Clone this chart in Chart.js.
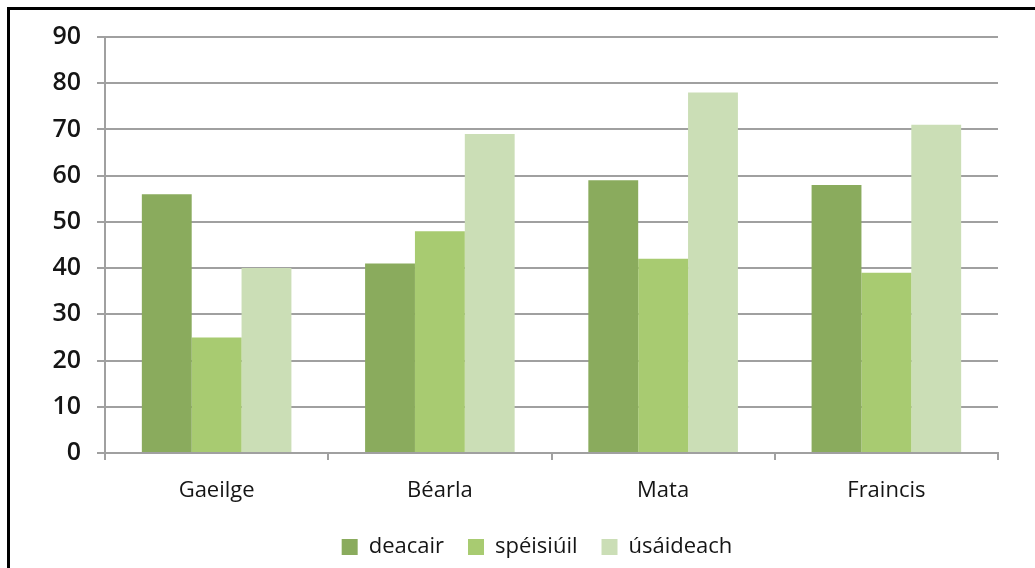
<!DOCTYPE html>
<html>
<head>
<meta charset="utf-8">
<script src="https://cdn.jsdelivr.net/npm/chart.js@4/dist/chart.umd.min.js"></script>
<style>
  html, body { margin: 0; padding: 0; background: #fff; overflow: hidden; }
  #wrap { position: relative; width: 1035px; height: 568px; }
  #frame { position: absolute; left: 7px; top: 7px; width: 1040px; height: 570px;
           border-left: 3px solid #000; border-top: 3px solid #000; box-sizing: border-box; }
  canvas { position: absolute; left: 0; top: 0; }
</style>
</head>
<body>
<div id="wrap">
  <div id="frame"></div>
  <canvas id="myChart" width="1035" height="568"></canvas>
</div>
<script>
// data
const subjects = ['Gaeilge', 'Béarla', 'Mata', 'Fraincis'];
const seriesNames = ['deacair', 'spéisiúil', 'úsáideach'];
const deacair = [56, 41, 59, 58];
const speisiuil = [25, 48, 42, 39];
const usaideach = [40, 69, 78, 71];
const yTicks = [0, 10, 20, 30, 40, 50, 60, 70, 80, 90];

const colours = ['#8aab5d', '#a8cb71', '#cbdeb6'];
const fontFamily = '"Open Sans", "Noto Sans", sans-serif';

// legend sits a bit right of the canvas centre in the original
const legendShift = {
  id: 'legendShift',
  afterLayout(chart) {
    if (chart.legend) {
      chart.legend.left += 38;
      chart.legend.right += 38;
    }
  }
};

const ctx = document.getElementById('myChart');
const myChart = new Chart(ctx, {
  type: 'bar',
  data: {
    labels: subjects,
    datasets: [deacair, speisiuil, usaideach].map((vals, i) => ({
      label: seriesNames[i],
      data: vals,
      backgroundColor: colours[i],
      borderWidth: 0,
      barPercentage: 1,
      categoryPercentage: 0.67
    }))
  },
  plugins: [legendShift],
  options: {
    responsive: false,
    animation: false,
    layout: { padding: { left: 0, right: 37, top: 37, bottom: 0 } },
    scales: {
      x: {
        afterFit: (scale) => { scale.height = 59; },
        grid: {
          offset: true,
          drawOnChartArea: false,
          color: '#a0a0a0',
          lineWidth: 2,
          tickLength: 7
        },
        border: { color: '#a0a0a0', width: 2 },
        ticks: {
          color: '#151515',
          font: { family: fontFamily, size: 22 },
          padding: 18
        }
      },
      y: {
        min: 0,
        max: 90,
        afterBuildTicks: (scale) => { scale.ticks = yTicks.map(v => ({ value: v })); },
        afterFit: (scale) => { scale.width = 105; },
        grid: { color: '#a0a0a0', lineWidth: 2, tickLength: 8 },
        border: { color: '#a0a0a0', width: 2 },
        ticks: {
          color: '#151515',
          font: { family: fontFamily, size: 25, weight: '600' },
          padding: 16
        }
      }
    },
    plugins: {
      legend: {
        position: 'bottom',
        labels: {
          color: '#151515',
          boxWidth: 16,
          boxHeight: 16,
          padding: 24,
          font: { family: fontFamily, size: 22 }
        }
      },
      tooltip: { enabled: false }
    }
  }
});
</script>
</body>
</html>
